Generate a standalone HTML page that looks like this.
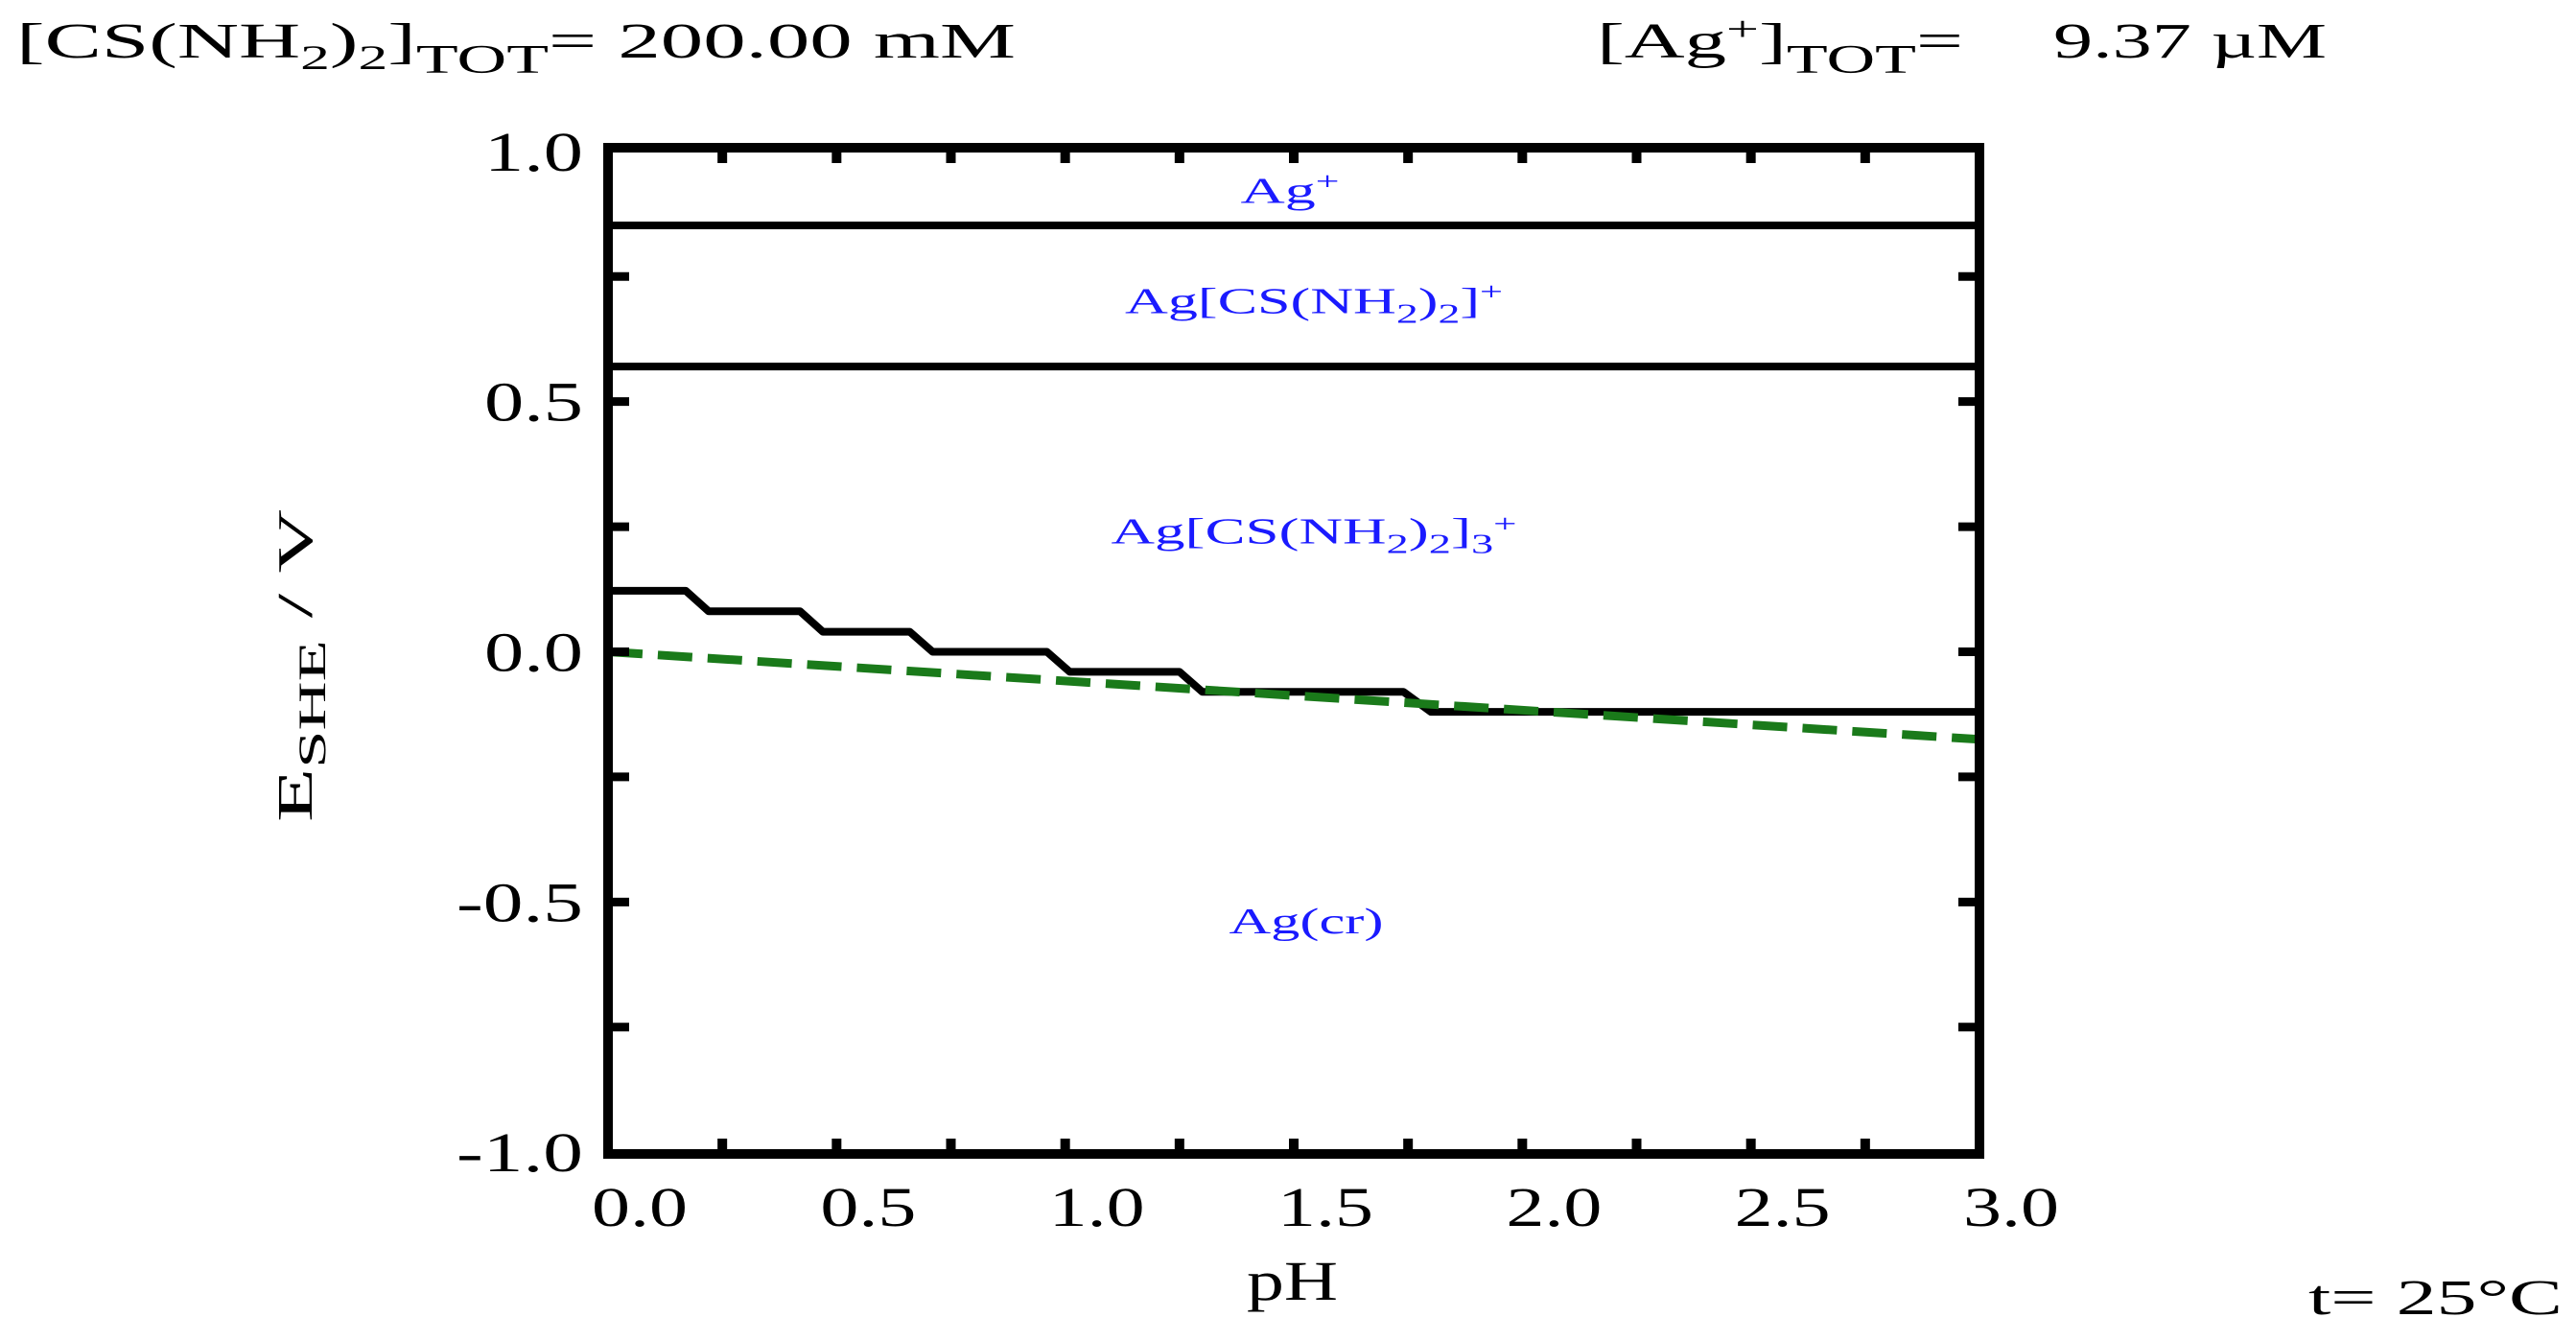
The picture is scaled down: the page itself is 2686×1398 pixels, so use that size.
<!DOCTYPE html>
<html><head><meta charset="utf-8"><style>
html,body{margin:0;padding:0;background:#fff;overflow:hidden;}
svg{display:block;font-family:"Liberation Serif",serif;}
</style></head><body>
<svg id="chart" width="2686" height="1398" viewBox="0 0 2686 1398">
<text x="17" y="60" font-size="52" textLength="1042" lengthAdjust="spacingAndGlyphs">[CS(NH<tspan font-size="36" dy="12">2</tspan><tspan dy="-12">)</tspan><tspan font-size="36" dy="12">2</tspan><tspan dy="-12">]</tspan><tspan font-size="42" dy="16">TOT</tspan><tspan dy="-16">=  200.00 mM</tspan></text>
<text x="1665" y="60" font-size="52" textLength="382" lengthAdjust="spacingAndGlyphs">[Ag<tspan font-size="36" dy="-18">+</tspan><tspan dy="18">]</tspan><tspan font-size="42" dy="16">TOT</tspan><tspan dy="-16">=</tspan></text>
<text x="2141" y="60" font-size="52" textLength="285" lengthAdjust="spacingAndGlyphs">9.37 µM</text>
<text x="2407" y="1370" font-size="52" textLength="265" lengthAdjust="spacingAndGlyphs">t= 25°C</text>
<g id="plot"></g>
</svg>
<script>
const xTicks=[0,0.5,1.0,1.5,2.0,2.5,3.0];
const yTicks=[1.0,0.5,0.0,-0.5,-1.0];
const boundaryValues=[0.852,0.570];
const stairPH=[0,0.17,0.22,0.42,0.47,0.66,0.71,0.96,1.01,1.25,1.30,1.74,1.80,3.0];
const stairE=[0.122,0.122,0.081,0.081,0.04,0.04,0.0,0.0,-0.04,-0.04,-0.08,-0.08,-0.12,-0.12];
const waterPH=[0,3.0];
const waterE=[0.0,-0.175];
const regionNames=["Ag+","AgTu+","AgTu3+","Ag(cr)"];
const regionE=[0.92,0.70,0.24,-0.54];
const X0=634,X1=2064,YT=154,YB=1203;
const sx=v=>X0+v/3*(X1-X0);
const sy=v=>679.5-v*521.7;
const NS="http://www.w3.org/2000/svg";
const g=document.getElementById('plot');
function mk(t,a,p){const e=document.createElementNS(NS,t);for(const k in a)e.setAttribute(k,a[k]);(p||g).appendChild(e);return e;}
boundaryValues.forEach(v=>{
 const l=mk('line',{x1:X0,x2:X1,y1:sy(v),y2:sy(v),stroke:'#000','stroke-width':8});
 
 
});
let d=stairPH.map((p,i)=>(i?'L':'M')+sx(p)+','+sy(stairE[i])).join(' ');
const st=mk('path',{d:d,fill:'none',stroke:'#000','stroke-width':8,'stroke-linejoin':'round'});


let dw=waterPH.map((p,i)=>(i?'L':'M')+sx(p)+','+sy(waterE[i])).join(' ');
const wl=mk('path',{d:dw,fill:'none',stroke:'#1a7a1a','stroke-width':9,'stroke-dasharray':'36,16'});


const fr=mk('rect',{x:X0,y:YT,width:X1-X0,height:YB-YT,fill:'none',stroke:'#000','stroke-width':10});


for(let v=0.25;v<3;v+=0.25){
 const t1=mk('line',{x1:sx(v),x2:sx(v),y1:YT,y2:YT+16,stroke:'#000','stroke-width':10});
 
 
 const t2=mk('line',{x1:sx(v),x2:sx(v),y1:YB,y2:YB-16,stroke:'#000','stroke-width':10});
 
 
}
for(let v=-0.75;v<1;v+=0.25){
 const t1=mk('line',{x1:X0,x2:X0+22,y1:sy(v),y2:sy(v),stroke:'#000','stroke-width':9});
 
 
 const t2=mk('line',{x1:X1,x2:X1-22,y1:sy(v),y2:sy(v),stroke:'#000','stroke-width':9});
 
 
}
xTicks.forEach(v=>{
 const t=mk('text',{x:sx(v)-17,y:1278,'font-size':58,textLength:100,lengthAdjust:'spacingAndGlyphs'});
 t.textContent=v.toFixed(1);
 
 
});
yTicks.forEach(v=>{
 const s=v.toFixed(1);
 const w=s.length>3?132:103;
 const t=mk('text',{x:608-w,y:sy(v)+20,'font-size':58,textLength:w,lengthAdjust:'spacingAndGlyphs'});
 t.textContent=s;
 
 
});
const xt=mk('text',{x:1300,y:1355,'font-size':58,textLength:95,lengthAdjust:'spacingAndGlyphs'});
xt.textContent='pH';


const yt=mk('text',{transform:'translate(325,694) rotate(-90)','font-size':52,'text-anchor':'middle',textLength:326,lengthAdjust:'spacingAndGlyphs'});
yt.innerHTML='E<tspan font-size="40" dy="14">SHE</tspan><tspan dy="-14">  / V</tspan>';


const labelsHTML=['Ag<tspan font-size="26" dy="-14">+</tspan>',
 'Ag[CS(NH<tspan font-size="28" dy="10">2</tspan><tspan dy="-10">)</tspan><tspan font-size="28" dy="10">2</tspan><tspan dy="-10">]</tspan><tspan font-size="26" dy="-14">+</tspan>',
 'Ag[CS(NH<tspan font-size="28" dy="10">2</tspan><tspan dy="-10">)</tspan><tspan font-size="28" dy="10">2</tspan><tspan dy="-10">]</tspan><tspan font-size="28" dy="10">3</tspan><tspan font-size="26" dy="-22">+</tspan>',
 'Ag(cr)'];
const lx=[1345,1370,1370,1362];
const lw=[103,394,423,161];
regionNames.forEach((n,i)=>{
 const t=mk('text',{x:lx[i],y:sy(regionE[i])+12,'font-size':38,fill:'#1a1aff','text-anchor':'middle',textLength:lw[i],lengthAdjust:'spacingAndGlyphs'});
 t.innerHTML=labelsHTML[i];
 
 
});
</script>
</body></html>
